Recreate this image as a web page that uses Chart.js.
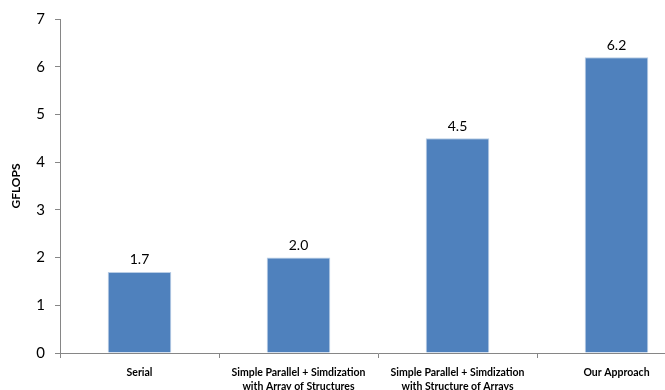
<!DOCTYPE html>
<html>
<head>
<meta charset="utf-8">
<script src="https://cdn.jsdelivr.net/npm/chart.js@4/dist/chart.umd.min.js"></script>
<style>
html,body{margin:0;padding:0;overflow:hidden;background:#fff;}
#wrap{width:702px;height:390px;}
</style>
</head>
<body>
<div id="wrap"><canvas id="c" width="702" height="390"></canvas></div>
<script>
const categories = [
  ["Serial"],
  ["Simple Parallel + Simdization", "with Array of Structures"],
  ["Simple Parallel + Simdization", "with Structure of Arrays"],
  ["Our Approach"]
];
const gflops = [1.7, 2.0, 4.5, 6.2];
const yTicks = [0, 1, 2, 3, 4, 5, 6, 7];

const FONT = "Lato, 'Open Sans', sans-serif";

const valueLabels = {
  id: 'valueLabels',
  afterDatasetsDraw(chart) {
    const ctx = chart.ctx;
    const meta = chart.getDatasetMeta(0);
    ctx.save();
    ctx.font = "14px " + FONT;
    ctx.fillStyle = "#000";
    ctx.textAlign = "center";
    ctx.textBaseline = "bottom";
    meta.data.forEach((bar, i) => {
      ctx.fillText(gflops[i].toFixed(1), bar.x, bar.y - 5);
    });
    ctx.restore();
  }
};

new Chart(document.getElementById('c'), {
  type: 'bar',
  data: {
    labels: categories,
    datasets: [{
      data: gflops,
      backgroundColor: '#4F81BD',
      borderColor: '#B9CDE5',
      borderWidth: {left: 1, right: 1, top: 1, bottom: 0},
      categoryPercentage: 1.0,
      barPercentage: 0.4
    }]
  },
  options: {
    responsive: false,
    animation: false,
    layout: {padding: {top: 18, right: 6, left: 0, bottom: 0}},
    plugins: {legend: {display: false}, tooltip: {enabled: false}},
    scales: {
      x: {
        offset: true,
        grid: {display: true, drawOnChartArea: false, drawTicks: true, tickLength: 5, color: '#868686', offset: true},
        border: {display: true, color: '#868686', width: 1},
        ticks: {color: '#000', font: {family: FONT, size: 10.5, weight: 'bold', lineHeight: 1.3}, padding: 8, maxRotation: 0, autoSkip: false},
        afterFit(s) { s.height = 37; }
      },
      y: {
        min: 0, max: 7,
        afterBuildTicks(s) { s.ticks = yTicks.map(v => ({value: v})); },
        grid: {display: true, drawOnChartArea: false, drawTicks: true, tickLength: 5, color: '#868686'},
        border: {display: true, color: '#868686', width: 1},
        ticks: {color: '#000', font: {family: FONT, size: 15}, padding: 10},
        title: {display: true, text: 'GFLOPS', color: '#000', font: {family: FONT, size: 12, weight: 'bold'}, padding: {top: 9, bottom: 0}},
        afterFit(s) { s.width = 60; }
      }
    }
  },
  plugins: [valueLabels]
});
</script>
</body>
</html>
